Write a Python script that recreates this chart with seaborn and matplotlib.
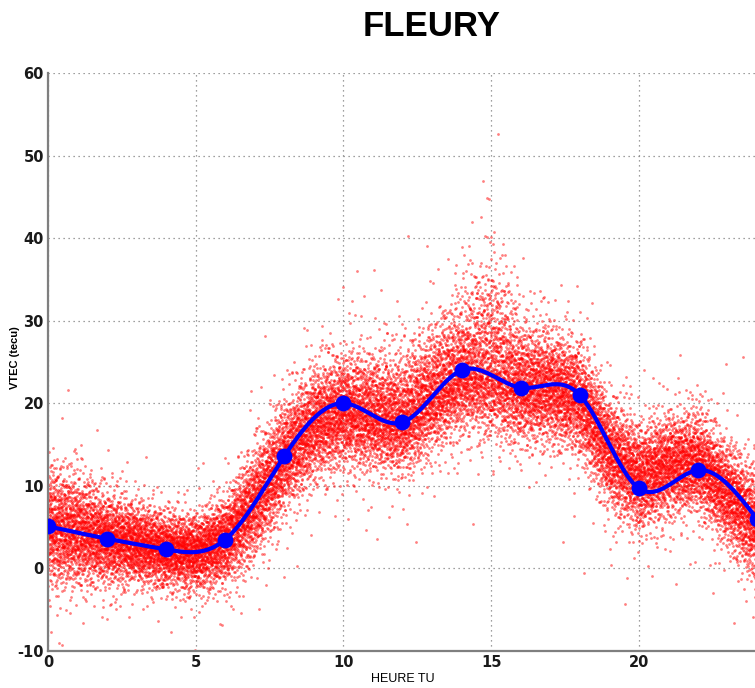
import numpy as np
import pandas as pd
import matplotlib
matplotlib.use("Agg")
import matplotlib.pyplot as plt
from matplotlib import font_manager
import seaborn as sns

# Hourly VTEC model nodes (every 2 h, UT)
node_hours = [0, 2, 4, 6, 8, 10, 12, 14, 16, 18, 20, 22, 24]
node_vtec = [5.1, 3.6, 2.3, 3.5, 13.6, 20.0, 17.7, 24.0, 21.9, 21.0, 9.7, 11.9, 6.0]

# Observed scatter envelope per hour: centre and spread above / below
env_hours = list(range(25))
env_centre = [5.0, 4.5, 3.6, 3.0, 2.3, 2.0, 3.5, 8.0, 13.5, 17.5, 19.0, 18.5, 18.0,
              21.0, 23.5, 24.0, 22.0, 22.0, 20.5, 14.0, 11.0, 12.5, 13.0, 9.0, 5.0]
env_sig_up = [3.6, 3.3, 2.6, 2.3, 2.1, 2.1, 2.4, 3.2, 3.2, 3.3, 3.5, 3.6, 3.8,
              3.9, 4.5, 6.5, 3.9, 3.3, 3.2, 3.2, 3.0, 2.9, 2.9, 3.0, 3.2]
env_sig_lo = [3.4, 3.1, 2.6, 2.3, 2.2, 2.3, 2.6, 3.2, 3.2, 3.2, 3.1, 3.1, 3.2,
              3.2, 3.2, 3.6, 3.2, 3.2, 3.2, 3.2, 3.2, 2.9, 2.9, 3.0, 3.2]

x_ticks = [0, 5, 10, 15, 20]
y_ticks = [-10, 0, 10, 20, 30, 40, 50, 60]


def halton(n, base):
    seq = np.zeros(n)
    for i in range(n):
        f, r, k = 1.0, 0.0, i + 1
        while k > 0:
            f /= base
            r += f * (k % base)
            k //= base
        seq[i] = r
    return seq


def natural_spline(xk, yk, xs):
    xk = np.asarray(xk, float)
    yk = np.asarray(yk, float)
    n = len(xk)
    h = np.diff(xk)
    A = np.zeros((n, n))
    b = np.zeros(n)
    A[0, 0] = A[-1, -1] = 1.0
    for i in range(1, n - 1):
        A[i, i - 1] = h[i - 1]
        A[i, i] = 2 * (h[i - 1] + h[i])
        A[i, i + 1] = h[i]
        b[i] = 6 * ((yk[i + 1] - yk[i]) / h[i] - (yk[i] - yk[i - 1]) / h[i - 1])
    m = np.linalg.solve(A, b)
    idx = np.clip(np.searchsorted(xk, xs) - 1, 0, n - 2)
    x0, x1 = xk[idx], xk[idx + 1]
    hh = x1 - x0
    t0, t1 = x1 - xs, xs - x0
    return (m[idx] * t0 ** 3 / (6 * hh) + m[idx + 1] * t1 ** 3 / (6 * hh)
            + (yk[idx] / hh - m[idx] * hh / 6) * t0
            + (yk[idx + 1] / hh - m[idx + 1] * hh / 6) * t1)


# Scatter cloud laid out over the envelope with a low-discrepancy sequence
n_obs = 22000
hx = halton(n_obs, 2) * 24
u1 = np.clip(halton(n_obs, 3), 1e-6, 1)
u2 = halton(n_obs, 5)
u3 = halton(n_obs, 7)
z = np.sqrt(-2 * np.log(u1)) * np.cos(2 * np.pi * u2)
z = np.where(u3 < 0.07, z * 1.9, z)
centre = np.interp(hx, env_hours, env_centre)
sig = np.where(z > 0, np.interp(hx, env_hours, env_sig_up),
               np.interp(hx, env_hours, env_sig_lo))
obs = pd.DataFrame({"hour": hx, "vtec": centre + z * sig})

fine_x = np.linspace(0, 24, 600)
curve = pd.DataFrame({"hour": fine_x, "vtec": natural_spline(node_hours, node_vtec, fine_x)})
nodes = pd.DataFrame({"hour": node_hours, "vtec": node_vtec})

sns.set_theme(style="white")
names = {f.name for f in font_manager.fontManager.ttflist}
tick_family = ["Liberation Sans Narrow"] if "Liberation Sans Narrow" in names else ["DejaVu Sans"]
plt.rcParams["font.family"] = ["Liberation Sans", "DejaVu Sans"]
plt.rcParams["axes.unicode_minus"] = False
plt.rcParams["text.color"] = "black"
plt.rcParams["axes.labelcolor"] = "black"

fig = plt.figure(figsize=(7.55, 6.88), dpi=100)
ax = fig.add_axes([48 / 755, 37 / 688, 709 / 755, 578 / 688])

sns.scatterplot(data=obs, x="hour", y="vtec", ax=ax, color="#ff0000", s=4,
                linewidth=0, alpha=0.5, legend=False, zorder=2)
sns.lineplot(data=curve, x="hour", y="vtec", ax=ax, color="#0000ff", linewidth=3,
             zorder=3, legend=False)
sns.scatterplot(data=nodes, x="hour", y="vtec", ax=ax, color="#0000ff", s=130,
                linewidth=0, legend=False, zorder=4)

ax.set_xlim(0, 24)
ax.set_ylim(-10, 60)
ax.set_xticks(x_ticks)
ax.set_yticks(y_ticks)
ax.grid(True, linestyle=(0, (1, 3)), color="#808080", linewidth=0.9)
ax.set_axisbelow(True)
for side in ("top", "right"):
    ax.spines[side].set_visible(False)
for side in ("left", "bottom"):
    ax.spines[side].set_color("#7f7f7f")
    ax.spines[side].set_linewidth(1.6)
ax.tick_params(direction="in", length=4, width=1.2, color="#555555", pad=3)
for lab in ax.get_xticklabels() + ax.get_yticklabels():
    lab.set_family(tick_family)
    lab.set_fontweight("bold")
    lab.set_fontsize(10.5)
    lab.set_color("#1a1a1a")

ax.set_xlabel("HEURE TU", fontsize=9, labelpad=2)
ax.set_ylabel("VTEC (tecu)", fontsize=8, fontweight="bold")
ax.yaxis.set_label_coords((20 - 48) / 709, (651 - 358) / 578)
fig.text(432 / 755, 1 - 27 / 688, "FLEURY", ha="center", va="center",
         fontsize=25, fontweight="bold")

fig.savefig("out.png", dpi=100)
